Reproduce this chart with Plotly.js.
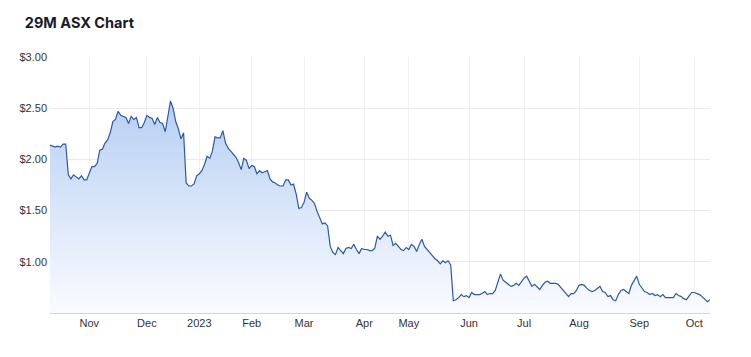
<!DOCTYPE html>
<html>
<head>
<meta charset="utf-8">
<script src="https://cdn.plot.ly/plotly-3.0.1.min.js"></script>
<style>
  html, body { margin: 0; padding: 0; background: #ffffff; }
  #chart { width: 751px; height: 357px; }
</style>
</head>
<body>
<div id="chart"></div>
<script>
// ASX trading-day closing prices for 29M, per month (Oct 2022 .. Oct 2023)
var pricesOct22 = [2.14, 2.13, 2.12, 2.13, 2.12, 2.15, 2.15, 1.85, 1.81, 1.85, 1.83, 1.81, 1.84, 1.80, 1.80];
var pricesNov22 = [1.86, 1.93, 1.93, 1.96, 2.09, 2.10, 2.16, 2.19, 2.26, 2.37, 2.39, 2.47, 2.43, 2.42, 2.41, 2.35, 2.42, 2.39, 2.41, 2.31, 2.31, 2.36];
var pricesDec22 = [2.43, 2.41, 2.40, 2.34, 2.41, 2.36, 2.35, 2.27, 2.43, 2.57, 2.50, 2.37, 2.30, 2.20, 2.26, 1.77, 1.74, 1.74, 1.76, 1.84];
var pricesJan23 = [1.86, 1.89, 1.95, 2.03, 2.01, 2.08, 2.22, 2.21, 2.21, 2.28, 2.16, 2.11, 2.08, 2.05, 2.02, 1.97, 1.90, 2.01, 1.99, 1.91];
var pricesFeb23 = [1.94, 1.93, 1.86, 1.89, 1.87, 1.88, 1.89, 1.81, 1.78, 1.77, 1.75, 1.74, 1.74, 1.80, 1.80, 1.75, 1.76, 1.66, 1.52, 1.53];
var pricesMar23 = [1.58, 1.68, 1.62, 1.60, 1.57, 1.49, 1.42, 1.37, 1.38, 1.35, 1.15, 1.09, 1.07, 1.14, 1.11, 1.08, 1.13, 1.14, 1.13, 1.17, 1.12, 1.08, 1.13];
var pricesApr23 = [1.12, 1.12, 1.11, 1.11, 1.13, 1.25, 1.22, 1.25, 1.29, 1.25, 1.26, 1.16, 1.18, 1.15, 1.12, 1.11, 1.14];
var pricesMay23 = [1.12, 1.17, 1.15, 1.10, 1.17, 1.22, 1.15, 1.12, 1.09, 1.05, 1.03, 1.01, 0.98, 1.01, 0.99, 1.01, 0.97, 0.62, 0.63, 0.65, 0.68, 0.66, 0.67];
var pricesJun23 = [0.65, 0.70, 0.68, 0.68, 0.68, 0.69, 0.71, 0.68, 0.69, 0.69, 0.72, 0.80, 0.88, 0.82, 0.80, 0.78, 0.76, 0.77, 0.79, 0.77, 0.81];
var pricesJul23 = [0.84, 0.86, 0.81, 0.76, 0.78, 0.75, 0.73, 0.77, 0.80, 0.81, 0.79, 0.79, 0.79, 0.78, 0.75, 0.72, 0.69, 0.66, 0.69, 0.69, 0.72];
var pricesAug23 = [0.77, 0.78, 0.77, 0.74, 0.72, 0.71, 0.72, 0.74, 0.76, 0.71, 0.70, 0.66, 0.67, 0.63, 0.62, 0.68, 0.72, 0.73, 0.71, 0.69, 0.77, 0.82, 0.86];
var pricesSep23 = [0.78, 0.74, 0.71, 0.70, 0.68, 0.69, 0.67, 0.68, 0.66, 0.68, 0.65, 0.65, 0.65, 0.65, 0.69, 0.67, 0.66, 0.64, 0.63, 0.67, 0.70];
var pricesOct23 = [0.70, 0.69, 0.68, 0.66, 0.63, 0.61, 0.63];

// Trading calendar
var firstDay = '2022-10-11';
var lastDay = '2023-10-10';
var asxHolidays = ['2022-12-26', '2022-12-27', '2023-01-02', '2023-01-26', '2023-04-07', '2023-04-10', '2023-04-25', '2023-06-12'];

// Axis ticks
var tickDates = ['2022-11-01', '2022-12-01', '2023-01-03', '2023-02-01', '2023-03-01', '2023-04-03', '2023-05-01', '2023-06-01', '2023-07-03', '2023-08-01', '2023-09-01', '2023-10-02'];
var tickLabels = ['Nov', 'Dec', '2023', 'Feb', 'Mar', 'Apr', 'May', 'Jun', 'Jul', 'Aug', 'Sep', 'Oct'];
var priceTicks = [1.0, 1.5, 2.0, 2.5, 3.0];
var priceTickLabels = ['$1.00', '$1.50', '$2.00', '$2.50', '$3.00'];

var prices = [].concat(pricesOct22, pricesNov22, pricesDec22, pricesJan23, pricesFeb23, pricesMar23,
  pricesApr23, pricesMay23, pricesJun23, pricesJul23, pricesAug23, pricesSep23, pricesOct23);

function pad(n) { return (n < 10 ? '0' : '') + n; }
function tradingDays(start, end, holidays) {
  var out = [];
  var d = new Date(start + 'T00:00:00Z');
  var e = new Date(end + 'T00:00:00Z');
  while (d <= e) {
    var s = d.getUTCFullYear() + '-' + pad(d.getUTCMonth() + 1) + '-' + pad(d.getUTCDate());
    var wd = d.getUTCDay();
    if (wd !== 0 && wd !== 6 && holidays.indexOf(s) < 0) out.push(s);
    d.setUTCDate(d.getUTCDate() + 1);
  }
  return out;
}
var dates = tradingDays(firstDay, lastDay, asxHolidays);

var trace = {
  x: dates,
  y: prices,
  type: 'scatter',
  mode: 'lines',
  line: { color: '#2d58a8', width: 1.2 },
  fill: 'tozeroy',
  fillgradient: {
    type: 'vertical',
    start: 0.5,
    stop: 3.0,
    colorscale: [[0, 'rgb(250,251,255)'], [0.35, 'rgb(222,233,250)'], [1, 'rgb(168,198,240)']]
  },
  hoverinfo: 'x+y'
};

var layout = {
  width: 751,
  height: 357,
  margin: { l: 50, r: 41, t: 57, b: 44 },
  paper_bgcolor: '#ffffff',
  plot_bgcolor: '#ffffff',
  showlegend: false,
  font: { family: 'Liberation Sans, Arial, sans-serif', size: 11, color: '#333333' },
  title: {
    text: '<b>29M ASX Chart</b>',
    x: 0.033, xanchor: 'left', xref: 'container',
    y: 0.935, yanchor: 'middle', yref: 'container',
    font: { family: 'Inter, Roboto, sans-serif', size: 14.5, color: '#1a1a2a' }
  },
  xaxis: {
    type: 'date',
    range: [firstDay, lastDay],
    rangebreaks: [{ bounds: ['sat', 'mon'] }, { values: asxHolidays }],
    tickmode: 'array',
    tickvals: tickDates,
    ticktext: tickLabels,
    showgrid: true,
    gridcolor: '#f0f0f0',
    gridwidth: 1,
    showline: true,
    linecolor: '#ccd6eb',
    linewidth: 1,
    ticks: '',
    zeroline: false,
    tickfont: { size: 11, color: '#333333' }
  },
  yaxis: {
    range: [0.5, 3.0],
    tickmode: 'array',
    tickvals: priceTicks,
    ticktext: priceTickLabels,
    showgrid: true,
    gridcolor: '#e9e9e9',
    gridwidth: 1,
    zeroline: false,
    showline: false,
    ticks: '',
    ticklabelstandoff: 2,
    tickfont: { size: 11, color: '#333333' }
  }
};

Plotly.newPlot('chart', [trace], layout, { displayModeBar: false, staticPlot: true });
</script>
</body>
</html>
